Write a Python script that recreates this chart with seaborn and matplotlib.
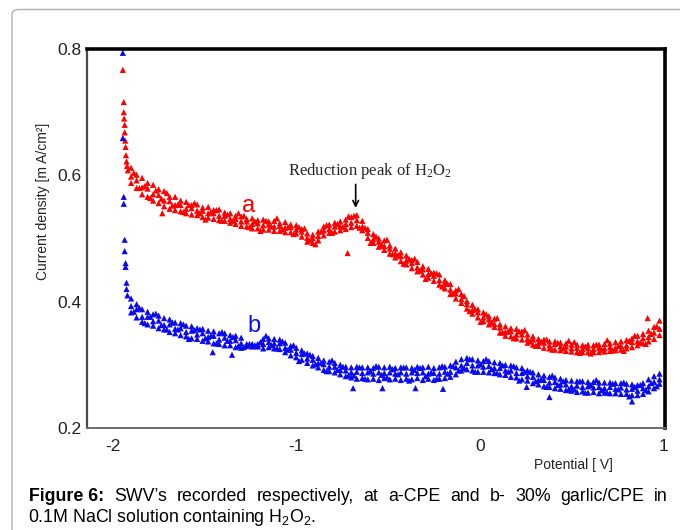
import numpy as np
import pandas as pd
import matplotlib
matplotlib.use("Agg")
import matplotlib.pyplot as plt
from matplotlib.patches import FancyBboxPatch
import seaborn as sns

# ---------------- data ----------------
potential = [
    -1.90, -1.87, -1.84, -1.81, -1.78, -1.75, -1.72, -1.69, -1.66, -1.63,
    -1.60, -1.57, -1.54, -1.51, -1.48, -1.45, -1.42, -1.39, -1.36, -1.33,
    -1.30, -1.27, -1.24, -1.21, -1.18, -1.15, -1.12, -1.09, -1.06, -1.03,
    -1.00, -0.97, -0.94, -0.91, -0.88, -0.85, -0.82, -0.79, -0.76, -0.73,
    -0.70, -0.67, -0.64, -0.61, -0.58, -0.55, -0.52, -0.49, -0.46, -0.43,
    -0.40, -0.37, -0.34, -0.31, -0.28, -0.25, -0.22, -0.19, -0.16, -0.13,
    -0.10, -0.07, -0.04, -0.01, 0.02, 0.05, 0.08, 0.11, 0.14, 0.17,
    0.20, 0.23, 0.26, 0.29, 0.32, 0.35, 0.38, 0.41, 0.44, 0.47,
    0.50, 0.53, 0.56, 0.59, 0.62, 0.65, 0.68, 0.71, 0.74, 0.77,
    0.80, 0.83, 0.86, 0.89, 0.92, 0.95, 0.98]
potential_half = [
    -1.885, -1.855, -1.825, -1.795, -1.765, -1.735, -1.705, -1.675, -1.645, -1.615,
    -1.585, -1.555, -1.525, -1.495, -1.465, -1.435, -1.405, -1.375, -1.345, -1.315,
    -1.285, -1.255, -1.225, -1.195, -1.165, -1.135, -1.105, -1.075, -1.045, -1.015,
    -0.985, -0.955, -0.925, -0.895, -0.865, -0.835, -0.805, -0.775, -0.745, -0.715,
    -0.685, -0.655, -0.625, -0.595, -0.565, -0.535, -0.505, -0.475, -0.445, -0.415,
    -0.385, -0.355, -0.325, -0.295, -0.265, -0.235, -0.205, -0.175, -0.145, -0.115,
    -0.085, -0.055, -0.025, 0.005, 0.035, 0.065, 0.095, 0.125, 0.155, 0.185,
    0.215, 0.245, 0.275, 0.305, 0.335, 0.365, 0.395, 0.425, 0.455, 0.485,
    0.515, 0.545, 0.575, 0.605, 0.635, 0.665, 0.695, 0.725, 0.755, 0.785,
    0.815, 0.845, 0.875, 0.905, 0.935, 0.965]

# curve a (CPE) – points across the scattered band
a_hi = [
    0.612, 0.601, 0.596, 0.588, 0.585, 0.578, 0.575, 0.566, 0.566, 0.560,
    0.558, 0.553, 0.554, 0.549, 0.550, 0.545, 0.546, 0.541, 0.540, 0.536,
    0.535, 0.531, 0.532, 0.529, 0.530, 0.527, 0.528, 0.524, 0.526, 0.522,
    0.521, 0.515, 0.508, 0.506, 0.511, 0.519, 0.522, 0.525, 0.527, 0.530,
    0.534, 0.537, 0.528, 0.515, 0.507, 0.500, 0.497, 0.489, 0.484, 0.478,
    0.473, 0.466, 0.463, 0.456, 0.452, 0.446, 0.443, 0.434, 0.428, 0.418,
    0.412, 0.401, 0.395, 0.388, 0.383, 0.377, 0.373, 0.364, 0.361, 0.358,
    0.357, 0.353, 0.348, 0.345, 0.341, 0.340, 0.337, 0.337, 0.335, 0.334,
    0.332, 0.332, 0.331, 0.332, 0.331, 0.332, 0.333, 0.334, 0.336, 0.337,
    0.339, 0.342, 0.346, 0.349, 0.354, 0.360, 0.370]
a_mid = [
    0.598, 0.592, 0.581, 0.579, 0.570, 0.569, 0.560, 0.559, 0.553, 0.553,
    0.547, 0.548, 0.544, 0.544, 0.540, 0.540, 0.536, 0.536, 0.531, 0.531,
    0.527, 0.527, 0.523, 0.524, 0.521, 0.522, 0.519, 0.520, 0.517, 0.518,
    0.514, 0.511, 0.501, 0.501, 0.504, 0.513, 0.515, 0.519, 0.519, 0.523,
    0.525, 0.529, 0.519, 0.509, 0.499, 0.495, 0.488, 0.484, 0.476, 0.472,
    0.465, 0.461, 0.454, 0.451, 0.444, 0.441, 0.434, 0.429, 0.419, 0.413,
    0.404, 0.396, 0.387, 0.383, 0.375, 0.372, 0.365, 0.359, 0.352, 0.353,
    0.348, 0.348, 0.341, 0.340, 0.335, 0.335, 0.331, 0.333, 0.329, 0.329,
    0.326, 0.327, 0.325, 0.327, 0.325, 0.327, 0.326, 0.328, 0.327, 0.330,
    0.331, 0.336, 0.337, 0.342, 0.344, 0.351, 0.357]
a_lo = [
    0.588, 0.580, 0.570, 0.566, 0.560, 0.556, 0.551, 0.547, 0.545, 0.543,
    0.540, 0.538, 0.537, 0.534, 0.533, 0.531, 0.529, 0.528, 0.525, 0.523,
    0.520, 0.519, 0.516, 0.516, 0.514, 0.514, 0.512, 0.512, 0.510, 0.510,
    0.508, 0.503, 0.495, 0.493, 0.497, 0.505, 0.509, 0.511, 0.513, 0.515,
    0.518, 0.520, 0.513, 0.501, 0.493, 0.487, 0.482, 0.476, 0.470, 0.464,
    0.459, 0.453, 0.448, 0.443, 0.438, 0.433, 0.427, 0.421, 0.412, 0.405,
    0.398, 0.389, 0.381, 0.375, 0.369, 0.364, 0.360, 0.351, 0.346, 0.345,
    0.342, 0.340, 0.335, 0.332, 0.330, 0.327, 0.326, 0.324, 0.323, 0.322,
    0.321, 0.320, 0.320, 0.320, 0.320, 0.320, 0.321, 0.322, 0.323, 0.324,
    0.326, 0.328, 0.331, 0.334, 0.337, 0.341, 0.347]
a_half = [
    0.604, 0.580, 0.583, 0.564, 0.576, 0.563, 0.572, 0.552, 0.554, 0.542,
    0.553, 0.556, 0.540, 0.530, 0.542, 0.545, 0.528, 0.538, 0.528, 0.540,
    0.536, 0.518, 0.527, 0.512, 0.528, 0.519, 0.532, 0.514, 0.518, 0.507,
    0.518, 0.516, 0.497, 0.491, 0.511, 0.521, 0.509, 0.523, 0.518, 0.535,
    0.536, 0.517, 0.517, 0.493, 0.503, 0.490, 0.498, 0.475, 0.474, 0.460,
    0.468, 0.468, 0.449, 0.436, 0.445, 0.445, 0.424, 0.428, 0.413, 0.420,
    0.409, 0.385, 0.388, 0.368, 0.380, 0.367, 0.374, 0.351, 0.353, 0.342,
    0.353, 0.355, 0.337, 0.330, 0.337, 0.340, 0.324, 0.335, 0.326, 0.338,
    0.336, 0.319, 0.329, 0.318, 0.332, 0.324, 0.339, 0.323, 0.330, 0.322,
    0.338, 0.346, 0.335, 0.333, 0.349, 0.361]
# steep start of curve a and a few stray points
a_extra_x = [-1.945, -1.940, -1.940, -1.938, -1.935, -1.935, -1.932, -1.930,
             -1.928, -1.925, -1.922, -1.918, -1.73, -0.72, 0.915]
a_extra_y = [0.767, 0.716, 0.700, 0.690, 0.680, 0.668, 0.655, 0.645,
             0.632, 0.622, 0.615, 0.608, 0.540, 0.477, 0.374]

# curve b (30% garlic/CPE)
b_hi = [
    0.405, 0.396, 0.388, 0.384, 0.380, 0.378, 0.374, 0.372, 0.367, 0.366,
    0.362, 0.361, 0.358, 0.357, 0.354, 0.353, 0.350, 0.350, 0.347, 0.346,
    0.343, 0.333, 0.333, 0.333, 0.341, 0.342, 0.341, 0.340, 0.335, 0.330,
    0.327, 0.323, 0.318, 0.314, 0.311, 0.307, 0.305, 0.303, 0.300, 0.297,
    0.296, 0.297, 0.296, 0.296, 0.295, 0.297, 0.296, 0.297, 0.295, 0.296,
    0.296, 0.295, 0.297, 0.296, 0.297, 0.295, 0.296, 0.297, 0.299, 0.305,
    0.309, 0.311, 0.309, 0.307, 0.306, 0.306, 0.304, 0.303, 0.300, 0.299,
    0.296, 0.295, 0.291, 0.288, 0.285, 0.283, 0.281, 0.280, 0.278, 0.276,
    0.275, 0.274, 0.274, 0.273, 0.273, 0.272, 0.272, 0.272, 0.271, 0.271,
    0.270, 0.269, 0.268, 0.271, 0.277, 0.282, 0.286]
b_mid = [
    0.393, 0.388, 0.376, 0.376, 0.369, 0.370, 0.363, 0.364, 0.357, 0.358,
    0.352, 0.354, 0.348, 0.350, 0.344, 0.346, 0.340, 0.343, 0.338, 0.339,
    0.334, 0.331, 0.331, 0.331, 0.333, 0.336, 0.334, 0.334, 0.327, 0.324,
    0.319, 0.317, 0.310, 0.308, 0.303, 0.301, 0.297, 0.297, 0.292, 0.291,
    0.288, 0.289, 0.287, 0.288, 0.286, 0.288, 0.287, 0.288, 0.286, 0.288,
    0.286, 0.288, 0.287, 0.288, 0.286, 0.287, 0.286, 0.289, 0.289, 0.296,
    0.299, 0.303, 0.299, 0.299, 0.297, 0.298, 0.295, 0.295, 0.291, 0.291,
    0.287, 0.287, 0.282, 0.281, 0.276, 0.276, 0.272, 0.273, 0.269, 0.269,
    0.266, 0.267, 0.265, 0.266, 0.264, 0.265, 0.263, 0.265, 0.262, 0.264,
    0.261, 0.262, 0.259, 0.263, 0.266, 0.273, 0.277]
b_lo = [
    0.383, 0.375, 0.368, 0.364, 0.362, 0.358, 0.356, 0.352, 0.350, 0.347,
    0.345, 0.342, 0.341, 0.338, 0.337, 0.334, 0.333, 0.331, 0.331, 0.328,
    0.327, 0.330, 0.329, 0.329, 0.326, 0.328, 0.326, 0.325, 0.320, 0.315,
    0.312, 0.308, 0.303, 0.299, 0.296, 0.292, 0.290, 0.288, 0.285, 0.282,
    0.280, 0.278, 0.279, 0.277, 0.278, 0.276, 0.279, 0.277, 0.278, 0.276,
    0.278, 0.277, 0.279, 0.276, 0.278, 0.276, 0.278, 0.279, 0.281, 0.285,
    0.291, 0.293, 0.291, 0.289, 0.289, 0.288, 0.287, 0.285, 0.284, 0.281,
    0.280, 0.277, 0.275, 0.271, 0.269, 0.266, 0.265, 0.263, 0.262, 0.260,
    0.259, 0.257, 0.258, 0.256, 0.257, 0.255, 0.256, 0.255, 0.255, 0.254,
    0.254, 0.252, 0.252, 0.254, 0.258, 0.263, 0.270]
b_half = [
    0.384, 0.390, 0.366, 0.376, 0.381, 0.363, 0.356, 0.367, 0.356, 0.364,
    0.341, 0.355, 0.356, 0.342, 0.346, 0.334, 0.352, 0.338, 0.344, 0.330,
    0.328, 0.333, 0.331, 0.336, 0.346, 0.331, 0.326, 0.337, 0.324, 0.331,
    0.306, 0.318, 0.316, 0.301, 0.303, 0.290, 0.307, 0.292, 0.297, 0.283,
    0.283, 0.296, 0.278, 0.290, 0.298, 0.284, 0.280, 0.293, 0.285, 0.296,
    0.275, 0.292, 0.295, 0.282, 0.288, 0.278, 0.298, 0.286, 0.298, 0.291,
    0.295, 0.309, 0.289, 0.301, 0.309, 0.293, 0.287, 0.299, 0.289, 0.298,
    0.275, 0.289, 0.289, 0.274, 0.277, 0.265, 0.283, 0.268, 0.274, 0.261,
    0.261, 0.274, 0.256, 0.268, 0.276, 0.260, 0.256, 0.270, 0.261, 0.272,
    0.250, 0.265, 0.268, 0.260, 0.271, 0.266]
b_extra_x = [-1.945, -1.945, -1.940, -1.940, -1.935, -1.935, -1.930, -1.930,
             -1.925, -1.925, -1.920, -1.455, -1.35, -0.69, -0.53, -0.35,
             -0.20, 0.256, 0.38, 0.83]
b_extra_y = [0.794, 0.659, 0.566, 0.555, 0.498, 0.480, 0.461, 0.455,
             0.430, 0.420, 0.410, 0.320, 0.316, 0.263, 0.263, 0.263,
             0.262, 0.265, 0.249, 0.242]

x_ticks = [-2, -1, 0, 1]
x_tick_labels = ["-2", "-1", "0", "1"]
y_ticks = [0.2, 0.4, 0.6, 0.8]
y_tick_labels = ["0.2", "0.4", "0.6", "0.8"]

# ---------------- build table ----------------
rows = []
for ys in (a_hi, a_mid, a_lo):
    rows += [(x, y, "a") for x, y in zip(potential, ys)]
rows += [(x, y, "a") for x, y in zip(potential_half, a_half)]
rows += [(x, y, "a") for x, y in zip(a_extra_x, a_extra_y)]
for ys in (b_hi, b_mid, b_lo):
    rows += [(x, y, "b") for x, y in zip(potential, ys)]
rows += [(x, y, "b") for x, y in zip(potential_half, b_half)]
rows += [(x, y, "b") for x, y in zip(b_extra_x, b_extra_y)]
df = pd.DataFrame(rows, columns=["potential", "current", "curve"])

# ---------------- style ----------------
sns.set_style("white")
plt.rcParams["font.family"] = ["Liberation Sans", "DejaVu Sans"]
plt.rcParams["axes.unicode_minus"] = False
plt.rcParams["mathtext.default"] = "regular"

RED = "#ff0000"
BLUE = "#0a0af0"

fig = plt.figure(figsize=(6.8, 5.3), dpi=100)
ax = fig.add_axes([0.128, 0.1925, 0.850, 0.715])

sns.scatterplot(data=df, x="potential", y="current", hue="curve",
                palette={"a": RED, "b": BLUE}, marker="^", s=20,
                linewidth=0, legend=False, ax=ax)

ax.set_xlim(-2.14, 1.01)
ax.set_ylim(0.2, 0.8)
ax.set_xticks(x_ticks)
ax.set_xticklabels(x_tick_labels)
ax.set_yticks(y_ticks)
ax.set_yticklabels(y_tick_labels)
ax.tick_params(axis="both", length=0, labelsize=12.5, colors="#222222")
ax.tick_params(axis="x", pad=8)
ax.tick_params(axis="y", pad=4)
ax.set_xlabel("")
ax.set_ylabel("")

for side, lw, col in (("top", 2.6, "black"), ("right", 2.6, "black"),
                      ("left", 1.6, "#4a4a4a"), ("bottom", 1.4, "#6a6a6a")):
    ax.spines[side].set_visible(True)
    ax.spines[side].set_linewidth(lw)
    ax.spines[side].set_color(col)

# curve labels
ax.text(-1.259, 0.551, "a", color=RED, fontsize=17, ha="center", va="center")
ax.text(-1.232, 0.361, "b", color=BLUE, fontsize=17, ha="center", va="center")

# annotation
ax.text(-0.60, 0.607, "Reduction peak of H$_2$O$_2$", fontsize=12,
        family=["Liberation Serif", "DejaVu Serif"], ha="center", va="center")
ax.annotate("", xy=(-0.676, 0.544), xytext=(-0.676, 0.590),
            arrowprops=dict(arrowstyle="->", color="black", lw=1.2))

# axis titles placed as in the reference
fig.text(573 / 680, 1 - 465 / 530, "Potential [ V]", fontsize=10,
         ha="center", va="center", color="#222222")
fig.text(43 / 680, 1 - 201 / 530, "Current density [m A/cm²]", fontsize=10,
         rotation=90, ha="center", va="center", color="#222222")

# outer light frame
frame = FancyBboxPatch((12 / 680, -0.05), 1.0, 1 - 9.5 / 530 + 0.05,
                       boxstyle="round,pad=0,rounding_size=0.01",
                       transform=fig.transFigure, fill=False,
                       edgecolor="#b0b0b0", linewidth=1.0, clip_on=False)
fig.patches.append(frame)

# caption (first line justified to the right edge)
fs_cap = 12.8
W, H = 680, 530
renderer = fig.canvas.get_renderer()
line1 = [("Figure 6:", "bold")] + [(w, "normal") for w in
         "SWV’s recorded respectively, at a-CPE and b- 30% garlic/CPE in".split()]
texts = []
widths = []
for w, weight in line1:
    t = fig.text(0, 1 - 501 / H, w, fontsize=fs_cap, fontweight=weight,
                 ha="left", va="baseline", color="black")
    texts.append(t)
    widths.append(t.get_window_extent(renderer).width)
x0, x1 = 29.0, 668.0
gap = (x1 - x0 - sum(widths)) / (len(texts) - 1)
xpos = x0
for t, wd in zip(texts, widths):
    t.set_x(xpos / W)
    xpos += wd + gap
fig.text(28 / W, 1 - 522 / H, "0.1M NaCl solution containing H$_2$O$_2$.",
         fontsize=fs_cap, ha="left", va="baseline", color="black")

fig.savefig("out.png", dpi=100)
